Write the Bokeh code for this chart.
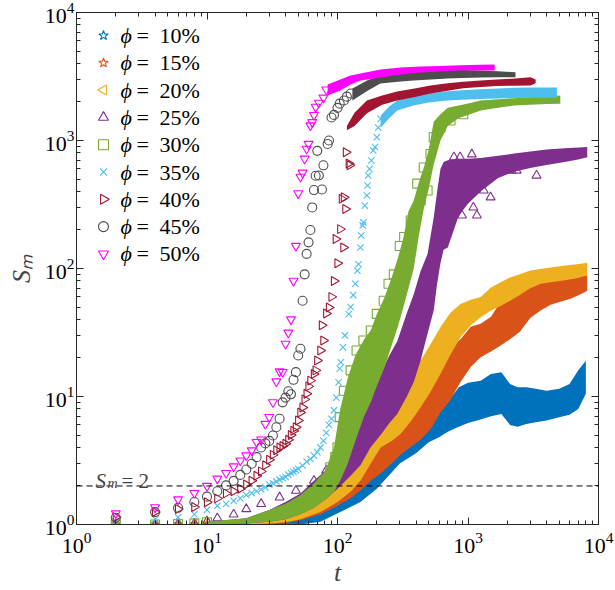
from bokeh.plotting import figure
from bokeh.models import LogAxis, Span, Label
from bokeh.core.properties import value
from bokeh.embed import file_html
from bokeh.resources import INLINE
import math

# ---------------- data: largest cluster size S_m versus time t ----------------
phi_values = ["10%", "15%", "20%", "25%", "30%", "35%", "40%", "45%", "50%"]
decades = [1, 10, 100, 1000, 10000]

# individual samples (sparse part of each curve)
t_10 = [2, 4, 6, 8, 10]
s_10 = [1.0, 1.0, 1.0, 1.0, 1.0]
t_15 = [2, 4, 6, 8, 10]
s_15 = [1.0, 1.0, 1.0, 1.0, 1.01]
t_20 = [2, 4, 6, 8, 10]
s_20 = [1.0, 1.0, 1.0, 1.01, 1.02]
t_25 = [2, 4, 6, 8, 10, 12, 16, 20, 26, 36, 48, 66, 82, 100,
        700, 780, 870, 900, 930, 1070, 1100, 1170, 1320, 1490, 2150, 2360, 3350]
s_25 = [1.0, 1.0, 1.01, 1.02, 1.06, 1.12, 1.2, 1.32, 1.45, 1.63, 1.84, 2.2, 2.64, 3.0,
        487, 740, 740, 260, 487, 780, 300, 260, 407, 360, 583, 583, 533]
t_30 = [2, 4, 6, 8, 10, 66, 78, 88, 96, 100, 104, 112, 126, 140, 158, 180, 200, 226,
        246, 270, 300, 324, 364, 384, 408, 434, 458, 490, 516, 546, 615, 734, 920]
s_30 = [1.0, 1.0, 1.01, 1.02, 1.04, 1.63, 2.14, 2.8, 3.36, 4.0, 6.9, 11.1, 16, 22.9,
        27.4, 32.8, 44.2, 56, 76, 90, 150, 176, 237, 250, 460, 340, 615, 407, 785,
        1060, 1260, 1432, 1605]
t_35 = [2, 4, 6, 8, 10, 12, 14, 16, 18, 20, 22, 24, 26, 28, 30, 32, 34, 36, 38, 40,
        42, 44, 46, 48, 50, 54, 58, 62, 66, 70, 74, 78, 82, 86, 90, 94, 98, 102, 104,
        106, 110, 114, 122, 126, 132, 137, 142, 145, 150, 152, 156, 158, 162, 168,
        170, 172, 176, 182, 188, 194, 200, 205, 214]
s_35 = [1.06, 1.1, 1.14, 1.2, 1.3, 1.4, 1.45, 1.53, 1.6, 1.7, 1.76, 1.82, 1.88,
        1.95, 2.05, 2.1, 2.17, 2.24, 2.3, 2.35, 2.45, 2.52, 2.58, 2.65, 2.72, 2.89,
        3.1, 3.25, 3.45, 3.67, 4.0, 4.5, 5.2, 6.0, 6.7, 7.8, 9.8, 12.9, 16.5, 18.5,
        24.2, 30, 44, 50, 62, 76, 96, 108, 146, 181, 217, 229, 310, 372, 445, 533,
        600, 698, 835, 890, 1060, 1260, 1475]
t_40 = [2, 4, 6, 8, 10, 12, 14, 16, 18, 20, 22, 24, 26, 28, 30, 32, 34, 36, 38, 40,
        42, 44, 46, 48, 50, 52, 54, 56, 58, 60, 62, 66, 68, 70, 74, 76, 78, 82, 86,
        90, 94, 97, 100, 105, 108, 111, 112, 115, 116, 122, 124]
s_40 = [1.14, 1.25, 1.32, 1.37, 1.49, 1.6, 1.75, 1.82, 1.9, 2.05, 2.2, 2.4, 2.6,
        2.9, 3.2, 3.5, 3.8, 4.0, 4.1, 4.27, 4.6, 5.0, 5.4, 5.76, 6.5, 7.5, 8.2, 9.5,
        10.5, 12, 13.3, 15, 16, 19.1, 22.9, 36, 27.4, 44.5, 49.6, 60, 80, 170, 110,
        203, 350, 146, 360, 292, 810, 660, 640]
t_45 = [2, 4, 6, 8, 10, 12, 14, 16, 18, 20, 22, 24, 26, 28, 30, 32, 34, 36, 38, 40,
        42, 44, 46, 48, 50, 52, 54, 56, 58, 60, 62, 64, 66, 68, 70, 72, 76, 78, 84,
        86, 90, 94, 100, 104, 112, 118, 126]
s_45 = [1.13, 1.25, 1.35, 1.5, 1.65, 1.82, 2.02, 2.19, 2.44, 2.69, 2.98, 3.36, 4.0,
        4.3, 4.5, 4.96, 5.75, 6.7, 9.0, 9.8, 11, 10.4, 13.5, 15.5, 20.9, 23.6, 56,
        90, 130, 160, 200, 300, 410, 530, 830, 533, 414, 640, 940, 1000, 1513, 1585,
        1800, 1940, 2054, 2200, 2330]
t_50 = [2, 4, 6, 8, 10, 12, 14, 16, 18, 20, 22, 24, 26, 28, 30, 32, 34, 36, 38, 40,
        42, 44, 46, 48, 50, 52, 54, 56, 58, 60, 62, 64, 66, 68, 72, 78, 82]
s_50 = [1.22, 1.36, 1.57, 1.76, 2.0, 2.28, 2.52, 2.84, 3.16, 3.46, 3.79, 4.4, 4.6,
        6.1, 6.9, 9.0, 13.1, 15.7, 15.5, 25.8, 31.5, 40, 80, 150, 386, 520, 560, 720,
        860, 940, 1310, 1390, 1580, 1830, 1970, 2160, 2500]

# dense part of each curve: spread of the samples (lower / upper edge)
bt_10 = [10, 20, 30, 40, 52, 74, 105, 150, 200, 300, 400, 500, 600, 700, 850,
         1000, 1250, 1500, 1800, 2100, 2400, 2800, 3300, 4000, 5000, 6000, 7000, 8000]
lo_10 = [1.0, 1.0, 1.0, 1.0, 1.0, 1.05, 1.25, 1.5, 1.9, 3.0, 3.6, 4.4, 4.8, 5.3,
         5.8, 6.2, 6.6, 7.0, 7.3, 6.0, 5.8, 6.1, 6.3, 6.5, 6.9, 7.2, 8.0, 10.5]
hi_10 = [1.02, 1.06, 1.1, 1.15, 1.22, 1.5, 1.9, 2.4, 3.0, 4.6, 5.8, 7.3, 8.3, 9.0,
         11.8, 12.8, 13.3, 15.0, 15.5, 12.5, 11.8, 11.8, 11.5, 11.1, 11.5, 12.5, 16, 19]
bt_15 = [10, 20, 30, 40, 52, 74, 100, 126, 150, 180, 214, 260, 304, 360, 433, 520,
         615, 730, 876, 1050, 1250, 1500, 1780, 2100, 2500, 3000, 3600, 4300, 5100,
         6100, 7300, 8200]
lo_15 = [1.0, 1.0, 1.0, 1.03, 1.08, 1.2, 1.4, 1.6, 1.84, 2.2, 2.5, 3.0, 3.5, 4.0,
         4.6, 5.6, 7.5, 9.3, 13, 17, 20.3, 22.5, 25, 28, 32, 41, 47, 52, 55, 58, 63, 67]
hi_15 = [1.03, 1.06, 1.12, 1.2, 1.3, 1.6, 2.1, 2.7, 3.4, 4.0, 4.8, 5.8, 7.8, 9.5,
         12, 15, 18, 24, 28, 35, 37, 42, 55, 60, 66, 76, 82, 84, 85, 86, 87, 88]
bt_20 = [10, 20, 30, 40, 52, 74, 100, 126, 150, 180, 214, 260, 304, 360, 433, 520,
         615, 730, 876, 1050, 1250, 1500, 1780, 2100, 2500, 3000, 3600, 4300, 5400,
         6800, 8200]
lo_20 = [1.0, 1.0, 1.02, 1.04, 1.1, 1.25, 1.5, 1.8, 2.2, 3.0, 4.0, 4.5, 5.1, 6.3,
         8.2, 11, 15, 21, 29, 36, 41.6, 47, 51, 56, 62, 70, 76, 78, 80.6, 84, 88]
hi_20 = [1.04, 1.08, 1.15, 1.22, 1.35, 1.6, 2.2, 3.0, 4.8, 5.8, 6.9, 8.5, 10.5,
         14, 19.1, 26, 34.8, 45, 52.7, 57, 60, 71, 78, 85, 90, 96.5, 99, 102, 105,
         108, 111]
bt_25 = [10, 20, 30, 40, 52, 66, 83, 100, 126, 150, 179, 214, 250, 287, 340, 384,
         433, 490, 546, 580, 615, 650, 700, 850, 1000, 1250, 1700, 2260, 3000, 4000,
         5500, 7000, 8200]
lo_25 = [1.0, 1.02, 1.05, 1.1, 1.2, 1.35, 1.6, 1.9, 2.4, 2.9, 4.0, 5.0, 6.2, 7.3,
         10, 13, 19, 31, 47, 76, 110, 140, 146, 260, 320, 400, 510, 570, 610, 645,
         680, 710, 740]
hi_25 = [1.05, 1.12, 1.3, 1.5, 1.75, 2.2, 2.7, 3.4, 5.1, 7.5, 10.5, 15, 21, 27,
         45, 63, 95, 130, 250, 400, 600, 680, 700, 720, 720, 730, 760, 790, 820,
         850, 870, 880, 890]
bt_30 = [10, 20, 30, 40, 52, 66, 80, 94, 105, 120, 137, 160, 180, 200, 230, 260,
         290, 320, 350, 384, 420, 460, 500, 546, 615, 700, 850, 1000, 1250, 1700,
         2250, 3000, 4000, 5100]
lo_30 = [1.0, 1.02, 1.05, 1.1, 1.2, 1.35, 1.55, 1.8, 2.2, 3.0, 4.5, 7, 9, 12, 17,
         25, 35, 50, 70, 100, 180, 300, 420, 650, 1000, 1300, 1500, 1580, 1714,
         1800, 1876, 1900, 1930, 1940]
hi_30 = [1.05, 1.12, 1.3, 1.45, 1.7, 2.1, 2.6, 4.0, 8.0, 14, 21, 28, 33, 44, 60,
         85, 120, 175, 280, 340, 470, 620, 850, 1400, 1600, 1800, 1880, 1950, 2050,
         2100, 2140, 2180, 2220, 2250]
bt_35 = [214, 250, 287, 382, 500, 697, 900, 1247, 1700, 2255, 3200, 4200, 4800]
lo_35 = [1260, 1500, 1714, 1876, 1980, 2054, 2080, 2113, 2130, 2150, 2155, 2160, 2160]
hi_35 = [1566, 1850, 2054, 2248, 2340, 2420, 2470, 2510, 2550, 2580, 2590, 2600, 2600]
bt_40 = [118, 135, 168, 220, 286, 400, 516, 700, 920, 1250, 1660, 2300, 3013, 3300]
lo_40 = [1200, 1300, 1630, 1900, 2054, 2200, 2330, 2450, 2560, 2620, 2660, 2680,
         2690, 2800]
hi_40 = [1300, 1650, 2054, 2250, 2410, 2560, 2690, 2800, 2880, 2940, 2990, 3050,
         3120, 3000]
bt_45 = [130, 170, 213, 290, 382, 520, 697, 900, 1247, 1700, 2312]
lo_45 = [2053, 2450, 2790, 2880, 2943, 3000, 3050, 3080, 3105, 3115, 3123]
hi_45 = [2548, 2950, 3220, 3380, 3478, 3540, 3589, 3560, 3524, 3470, 3418]
bt_50 = [84, 105, 126, 150, 214, 304, 433, 615, 876, 1247, 1600]
lo_50 = [2250, 2458, 2740, 2940, 3105, 3280, 3400, 3460, 3520, 3520, 3520]
hi_50 = [2740, 3000, 3220, 3340, 3590, 3720, 3786, 3820, 3870, 3900, 3925]

colors = ["#0072BD", "#D95319", "#EDB120", "#7E2F8E", "#77AC30",
          "#4DBEEE", "#A2142F", "#4D4D4D", "#FF00FF"]
markers = ["star", "star", "triangle", "triangle", "square",
           "x", "triangle", "circle", "inverted_triangle"]
angles = [0, 0, math.pi / 2, 0, 0, 0, -math.pi / 2, 0, 0]

samples = [(t_10, s_10), (t_15, s_15), (t_20, s_20), (t_25, s_25), (t_30, s_30),
           (t_35, s_35), (t_40, s_40), (t_45, s_45), (t_50, s_50)]
bands = [(bt_10, lo_10, hi_10), (bt_15, lo_15, hi_15), (bt_20, lo_20, hi_20),
         (bt_25, lo_25, hi_25), (bt_30, lo_30, hi_30), (bt_35, lo_35, hi_35),
         (bt_40, lo_40, hi_40), (bt_45, lo_45, hi_45), (bt_50, lo_50, hi_50)]

threshold = 2

# ---------------- figure ----------------
FRAME_LEFT, FRAME_BOTTOM = 76, 524        # pixel position of the frame corner
PX_PER_DECADE_X, PX_PER_DECADE_Y = 130.5, 128.0

p = figure(width=615, height=590, x_axis_type="log", y_axis_type="log",
           x_range=(1, 1e4), y_range=(1, 1e4), output_backend="svg",
           toolbar_location=None, min_border_left=FRAME_LEFT, min_border_right=17,
           min_border_top=12, min_border_bottom=590 - FRAME_BOTTOM)
p.background_fill_color = "white"
p.border_fill_color = "white"
p.outline_line_color = "#262626"
p.outline_line_width = 1
p.xgrid.visible = False
p.ygrid.visible = False

axis_color = "#262626"
serif = "Liberation Serif"

bottom_axis = p.below[0]
left_axis = p.left[0]
# mirrored axes on top and right carry ticks only
top_axis = LogAxis(major_label_overrides={d: "" for d in decades})
right_axis = LogAxis(major_label_overrides={d: "" for d in decades})
p.add_layout(top_axis, "above")
p.add_layout(right_axis, "right")

for ax in [bottom_axis, left_axis, top_axis, right_axis]:
    ax.axis_line_color = axis_color
    ax.major_tick_line_color = axis_color
    ax.minor_tick_line_color = axis_color
    ax.major_tick_in = 7
    ax.major_tick_out = 0
    ax.minor_tick_in = 4
    ax.minor_tick_out = 0
    ax.ticker.num_minor_ticks = 10
    ax.major_label_text_font = serif
    ax.major_label_text_font_size = "22px"
    ax.major_label_text_color = "black"

for ax in [top_axis, right_axis]:
    ax.major_label_standoff = 0

bottom_axis.major_label_standoff = 8
left_axis.major_label_standoff = 2

bottom_axis.axis_label = "t"
bottom_axis.axis_label_text_font = serif
bottom_axis.axis_label_text_font_style = "italic"
bottom_axis.axis_label_text_font_size = "26px"
bottom_axis.axis_label_standoff = 2

left_axis.axis_label = "Sₘ"
left_axis.axis_label_text_font = serif
left_axis.axis_label_text_font_style = "italic"
left_axis.axis_label_text_font_size = "26px"
left_axis.axis_label_standoff = 6

# threshold line S_m = 2
p.add_layout(Span(location=threshold, dimension="width", line_color="black",
                  line_dash="6 4", line_width=1))

for (bt, lo, hi), (ts, ss), c, m, a in zip(bands, samples, colors, markers, angles):
    p.varea(x=bt, y1=lo, y2=hi, fill_color=c, fill_alpha=1.0)
    p.scatter(x=ts, y=ss, marker=m, size=9, angle=a, line_color=c,
              fill_color=None, line_width=1.1)


def to_t(px):
    return 10 ** ((px - FRAME_LEFT) / PX_PER_DECADE_X)


def to_s(py):
    return 10 ** ((FRAME_BOTTOM - py) / PX_PER_DECADE_Y)


# legend: key marker, italic phi, "=" and the value, one row per series
row_s = [to_s(35 + 27.3 * i) for i in range(len(phi_values))]
p.scatter(x=[to_t(103)] * 9, y=row_s, marker=markers, size=10, angle=angles,
          line_color=colors, fill_color=None, line_width=1.1)
p.text(x=[to_t(120)] * 9, y=row_s, text=["ϕ"] * 9, text_font=value(serif),
       text_font_style="italic", text_font_size="22px", text_baseline="middle",
       text_align="left", text_color="black")
p.text(x=[to_t(136)] * 9, y=row_s, text=["="] * 9, text_font=value(serif),
       text_font_size="22px", text_baseline="middle", text_align="left",
       text_color="black")
p.text(x=[to_t(159)] * 9, y=row_s, text=phi_values, text_font=value(serif),
       text_font_size="22px", text_baseline="middle", text_align="left",
       text_color="black")

# threshold annotation
p.add_layout(Label(x=19, y=44, x_units="screen", y_units="screen", text="S",
                   text_font=serif, text_font_style="italic", text_font_size="21px",
                   text_align="left", text_baseline="alphabetic"))
p.add_layout(Label(x=31, y=41, x_units="screen", y_units="screen", text="m",
                   text_font=serif, text_font_style="italic", text_font_size="14px",
                   text_align="left", text_baseline="alphabetic"))
p.add_layout(Label(x=45, y=44, x_units="screen", y_units="screen", text="= 2",
                   text_font=serif, text_font_size="21px",
                   text_align="left", text_baseline="alphabetic"))

open("out.html", "w").write(file_html(p, INLINE))
